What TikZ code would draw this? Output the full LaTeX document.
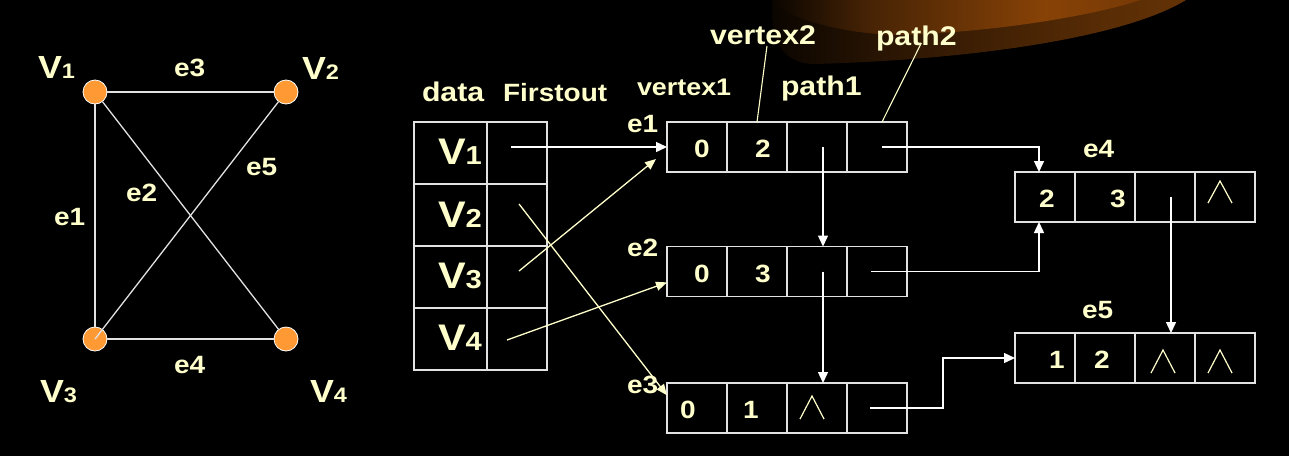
\documentclass[tikz,border=0pt]{standalone}
\usepackage{fontspec}
\setmainfont{Liberation Sans}[FakeStretch=1.12]
\usetikzlibrary{arrows.meta,calc}

\definecolor{ink}{RGB}{255,255,204}
\definecolor{rule}{RGB}{226,226,226}
\definecolor{dot}{RGB}{255,153,51}
\definecolor{bkA}{RGB}{10,5,0}
\definecolor{bkB}{RGB}{40,20,3}
\definecolor{brA}{RGB}{62,31,4}
\definecolor{brB}{RGB}{88,44,5}
\definecolor{brC}{RGB}{100,50,6}
\definecolor{orA}{RGB}{70,35,5}
\definecolor{orB}{RGB}{135,66,6}
\definecolor{orC}{RGB}{120,58,6}

% horizontal shadings for the two bands of the swoosh (25bp..75bp spans the path)
\pgfdeclarehorizontalshading{swooshlow}{100bp}{color(0bp)=(bkA); color(25bp)=(bkA); color(38bp)=(bkB); color(50bp)=(brA); color(65bp)=(brB); color(75bp)=(brC); color(100bp)=(brC)}
\pgfdeclarehorizontalshading{swooshhigh}{100bp}{color(0bp)=(bkA); color(25bp)=(bkA); color(38bp)=(orA); color(62bp)=(orB); color(75bp)=(orC); color(100bp)=(orC)}

\newcommand\setfs[1]{\fontsize{#1}{#1}\selectfont}
% vertex name: big V followed by a smaller digit on the same baseline
\newcommand\vname[3]{{\setfs{#2}V{\setfs{#3}#1}}}

\begin{document}
\begin{tikzpicture}[x=1pt,y=-1pt,
  txt/.style={inner sep=0pt, outer sep=0pt, text=ink, font=\bfseries, anchor=base west},
  num/.style={inner sep=0pt, outer sep=0pt, text=ink, font=\bfseries\setfs{25}, anchor=base},
  cell/.style={draw=rule, line width=1.3pt, minimum width=60pt, minimum height=50pt, inner sep=0pt, outer sep=0pt},
  tcell/.style={draw=rule, line width=1.3pt, minimum height=62pt, inner sep=0pt, outer sep=0pt},
  vtx/.style={circle, fill=dot, draw=white, line width=0.8pt, minimum size=24pt, inner sep=0pt},
  gedge/.style={draw=rule, line width=1.3pt},
  ptr/.style={draw=white, line width=1.4pt, -{Triangle[length=11pt,width=10pt]}},
  yptr/.style={draw=ink, line width=1.3pt, -{Triangle[length=11pt,width=9pt]}},
  yline/.style={draw=ink, line width=1.1pt},
  wedge/.style={draw=ink, line width=1.2pt, line join=miter}
]
% background
\fill[black] (0,0) rectangle (1289,456);
\useasboundingbox (0,0) rectangle (1289,456);

% swoosh in the upper right
\shade[shading=swooshlow] (772,0) .. controls (770,45) and (785,64) .. (815,64)
  .. controls (960,60) and (1120,40) .. (1186,0) -- cycle;
\shade[shading=swooshhigh] (772,0) .. controls (776,12) and (830,34) .. (900,35)
  .. controls (1000,32) and (1100,14) .. (1140,0) -- cycle;

% ---------- undirected graph ----------
\node[vtx] (v1) at (95,92) {};
\node[vtx] (v2) at (286,92) {};
\node[vtx] (v3) at (95,339) {};
\node[vtx] (v4) at (286,339) {};
\draw[gedge] (v1) -- (v2);
\draw[gedge] (v3) -- (v4);
\draw[gedge] (v1) -- (v3);
\draw[gedge] (v1) -- (v4);
\draw[gedge] (v2) -- (v3.center);

\node[txt] (nv1) at (38,78) {\vname{1}{32}{21}};
\node[txt] (nv2) at (302,79) {\vname{2}{32}{21}};
\node[txt] (nv3) at (40,402) {\vname{3}{32}{21}};
\node[txt] (nv4) at (310,402) {\vname{4}{32}{21}};
\node[txt, font=\bfseries\setfs{25}] (ge3) at (174,76) {e3};
\node[txt, font=\bfseries\setfs{25}] (ge5) at (246,175) {e5};
\node[txt, font=\bfseries\setfs{25}] (ge2) at (126,201) {e2};
\node[txt, font=\bfseries\setfs{25}] (ge1) at (54,225) {e1};
\node[txt, font=\bfseries\setfs{25}] (ge4) at (174,373) {e4};

% ---------- vertex table ----------
\node[txt, font=\bfseries\setfs{27}] (hdata) at (422,101) {data};
\node[txt, font=\bfseries\setfs{25}] (hfirst) at (503,101) {Firstout};
\foreach \i/\y in {1/153,2/215,3/277,4/339}{
  \node[tcell, minimum width=73pt] (d\i) at (450.5,\y) {};
  \node[tcell, minimum width=60pt] (f\i) at (517,\y) {};
}
\node[txt] (tv1) at (438,164) {\vname{1}{37}{26}};
\node[txt] (tv2) at (438,227) {\vname{2}{37}{26}};
\node[txt] (tv3) at (438,288) {\vname{3}{37}{26}};
\node[txt] (tv4) at (438,350) {\vname{4}{37}{26}};

% ---------- edge nodes ----------
\foreach \r/\y in {e1/147,e2/271.5,e3/408}{
  \node[cell] (\r a) at (697,\y) {};
  \node[cell] (\r b) at (757,\y) {};
  \node[cell] (\r c) at (817,\y) {};
  \node[cell] (\r d) at (877,\y) {};
}
\foreach \r/\y in {e4/197,e5/358}{
  \node[cell] (\r a) at (1045,\y) {};
  \node[cell] (\r b) at (1105,\y) {};
  \node[cell] (\r c) at (1165,\y) {};
  \node[cell] (\r d) at (1225,\y) {};
}

% field names
\node[txt, font=\bfseries\setfs{24}] (vx1) at (637,95) {vertex1};
\node[txt, font=\bfseries\setfs{27}] (vx2) at (710,44) {vertex2};
\node[txt, font=\bfseries\setfs{27}] (pt1) at (781,95) {path1};
\node[txt, font=\bfseries\setfs{27}] (pt2) at (876,45) {path2};
\draw[yline] ($(vx2.base)+(4,2)$) -- (e1b.north);
\draw[yline] ($(pt2.base)+(5,-2)$) -- ($(e1d.north)+(5,0)$);

% edge names
\node[txt, font=\bfseries\setfs{25}] (le1) at (627,132) {e1};
\node[txt, font=\bfseries\setfs{25}] (le2) at (627,256) {e2};
\node[txt, font=\bfseries\setfs{25}] (le3) at (627,393) {e3};
\node[txt, font=\bfseries\setfs{25}] (le4) at (1083,157) {e4};
\node[txt, font=\bfseries\setfs{25}] (le5) at (1082,318) {e5};

% field values
\node[num] (n1a) at (702,157) {0};
\node[num] (n1b) at (763,157) {2};
\node[num] (n2a) at (702,282) {0};
\node[num] (n2b) at (763,282) {3};
\node[num] (n3a) at (688,418) {0};
\node[num] (n3b) at (751,418) {1};
\node[num] (n4a) at (1047,207) {2};
\node[num] (n4b) at (1118,207) {3};
\node[num] (n5a) at (1057,368) {1};
\node[num] (n5b) at (1102,368) {2};

% null pointers
\draw[wedge] (800,419) -- ++(12,-23) -- ++(12,23);
\draw[wedge] (1208,203) -- ++(12,-22) -- ++(12,22);
\draw[wedge] (1151,373) -- ++(12,-23) -- ++(12,23);
\draw[wedge] (1208,373) -- ++(12,-23) -- ++(12,23);

% ---------- pointers ----------
\draw[ptr] ($(f1.center)+(-6,-6)$) -- (e1a.west);
\draw[yptr] ($(f2.center)+(2,-11)$) -- (e3a.157);
\coordinate (e1tip) at ($(e1a.south west)+(-11,-13)$);
\draw[yptr] ($(f3.center)+(2,-6)$) -- (e1tip);
\draw[yptr] ($(f4.center)+(-10,1)$) -- (e2a.200);

\draw[ptr] ($(e1c.center)+(6,0)$) -- ($(e2c.north)+(6,0)$);
\draw[ptr] ($(e2c.center)+(6,0)$) -- ($(e3c.north)+(6,0)$);
\draw[ptr] ($(e1d.center)+(5,0)$) -| ($(e4a.north)+(-6,0)$);
\draw[ptr] ($(e2d.center)+(-6,0)$) -| ($(e4a.south)+(-6,0)$);
\draw[ptr] ($(e3d.center)+(-7,0)$) -- ++(73,0) |- (e5a.west);
\draw[ptr] ($(e4c.center)+(6,0)$) -- ($(e5c.north)+(6,0)$);
\end{tikzpicture}
\end{document}
